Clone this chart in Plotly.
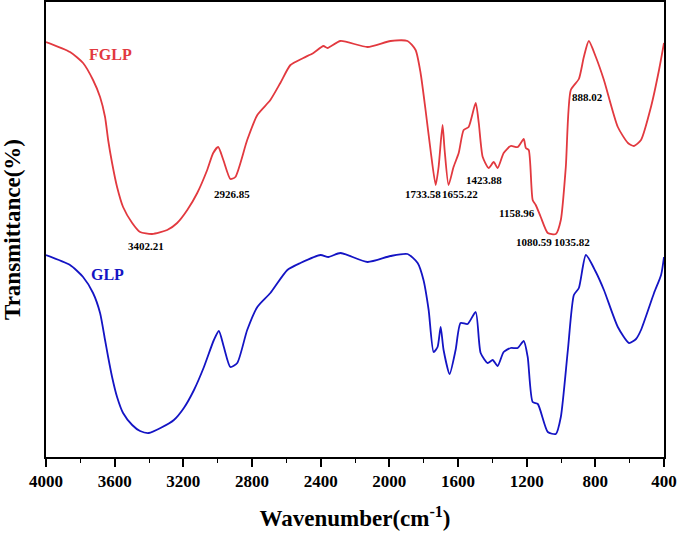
import plotly.graph_objects as go

# ---- data ----
fglp_wn = [4000, 3860, 3784, 3726, 3685, 3656, 3638, 3615, 3586, 3551, 3498, 3452, 3382, 3294,
           3236, 3177, 3119, 3061, 3026, 2997, 2967, 2926, 2897, 2828, 2769, 2693, 2635, 2576,
           2501, 2442, 2384, 2360, 2285, 2127, 1993, 1894, 1847, 1818, 1789, 1760, 1730, 1713,
           1690, 1678, 1655, 1626, 1596, 1567, 1538, 1497, 1479, 1456, 1421, 1392, 1369, 1334,
           1293, 1252, 1217, 1205, 1188, 1165, 1147, 1118, 1077, 1030, 1001, 972, 943, 896,
           867, 838, 797, 750, 669, 610, 575, 534, 476, 429, 400]
fglp_t = [415, 405, 394, 377, 360, 340, 317, 294, 270, 250, 234, 225, 223, 227,
          234, 247, 264, 287, 304, 310, 297, 278, 280, 317, 342, 357, 374, 392,
          399, 404, 411, 409, 416, 410, 416, 416, 407, 384, 347, 307, 272, 290,
          332, 307, 272, 290, 304, 327, 330, 354, 334, 300, 289, 295, 289, 304,
          311, 310, 318, 309, 307, 257, 252, 240, 224, 223, 237, 290, 367, 378,
          400, 416, 400, 377, 330, 314, 311, 317, 350, 387, 414]

glp_wn = [4000, 3860, 3784, 3726, 3685, 3656, 3638, 3615, 3586, 3551, 3498, 3452, 3401, 3333,
          3255, 3197, 3138, 3080, 3022, 2993, 2964, 2926, 2886, 2828, 2769, 2693, 2594, 2518,
          2401, 2355, 2285, 2127, 1993, 1894, 1835, 1801, 1771, 1742, 1719, 1701, 1684, 1649,
          1614, 1585, 1544, 1497, 1468, 1427, 1398, 1369, 1334, 1293, 1252, 1217, 1194, 1165,
          1135, 1077, 1030, 1001, 960, 925, 896, 855, 797, 750, 669, 604, 563, 534, 458, 417, 400]
glp_t = [202, 192, 180, 164, 144, 117, 100, 80, 60, 44, 32, 26, 24, 29,
         37, 49, 67, 90, 117, 126, 110, 90, 94, 127, 150, 164, 187, 194,
         202, 200, 204, 195, 201, 203, 194, 177, 147, 105, 110, 130, 107, 83,
         107, 134, 133, 145, 104, 94, 97, 91, 105, 109, 109, 116, 100, 55,
         53, 25, 23, 40, 107, 162, 169, 202, 185, 167, 130, 114, 118, 127, 164, 182, 200]

peak_labels = ["3402.21", "2926.85", "1733.58", "1655.22", "1423.88",
               "1158.96", "1080.59", "1035.82", "888.02"]
peak_x = [3417, 2915, 1806, 1590, 1450, 1258, 1159, 937, 844]
peak_y = [211, 263, 263, 263, 277, 244, 215, 215, 360]

x_ticks = [4000, 3600, 3200, 2800, 2400, 2000, 1600, 1200, 800, 400]

RED = "#E2393F"
BLUE = "#1414C4"
FONT = "Liberation Serif"

fig = go.Figure()
fig.add_trace(go.Scatter(x=fglp_wn, y=fglp_t, mode="lines", name="FGLP",
                         line=dict(color=RED, width=1.8, shape="spline", smoothing=0.6)))
fig.add_trace(go.Scatter(x=glp_wn, y=glp_t, mode="lines", name="GLP",
                         line=dict(color=BLUE, width=1.8, shape="spline", smoothing=0.6)))

for lab, px, py in zip(peak_labels, peak_x, peak_y):
    fig.add_annotation(x=px, y=py, text=lab, showarrow=False,
                       font=dict(family=FONT, size=11, color="black", weight="bold"))

fig.add_annotation(x=3627, y=403, text="FGLP", showarrow=False,
                   font=dict(family=FONT, size=16, color=RED, weight="bold"))
fig.add_annotation(x=3644, y=183, text="GLP", showarrow=False,
                   font=dict(family=FONT, size=16, color=BLUE, weight="bold"))

fig.update_layout(
    width=679, height=533,
    margin=dict(l=46, r=15, t=2, b=76, autoexpand=False),
    paper_bgcolor="white", plot_bgcolor="white",
    showlegend=False,
    font=dict(family=FONT, color="black"),
)
fig.update_xaxes(
    range=[4000, 400], autorange=False,
    tickvals=x_ticks, ticktext=[str(v) for v in x_ticks],
    ticks="outside", ticklen=8, tickwidth=1.5, tickcolor="black",
    minor=dict(dtick=200, tick0=0, ticks="outside", ticklen=4, tickwidth=1.3, tickcolor="black"),
    showline=True, linecolor="black", linewidth=1.5, mirror=True,
    showgrid=False, zeroline=False,
    tickfont=dict(family=FONT, size=17, color="black", weight="bold"),
    title=dict(text="Wavenumber(cm<sup>-1</sup>)", standoff=20,
               font=dict(family=FONT, size=23, color="black", weight="bold")),
)
fig.update_yaxes(
    range=[0, 455], autorange=False,
    showticklabels=False, ticks="",
    showline=True, linecolor="black", linewidth=1.5, mirror=True,
    showgrid=False, zeroline=False,
    title=dict(text="Transmittance(%)", standoff=17,
               font=dict(family=FONT, size=23, color="black", weight="bold")),
)

fig.write_html("out.html", config={"displayModeBar": False},
               post_script="document.body.style.margin='0';")
